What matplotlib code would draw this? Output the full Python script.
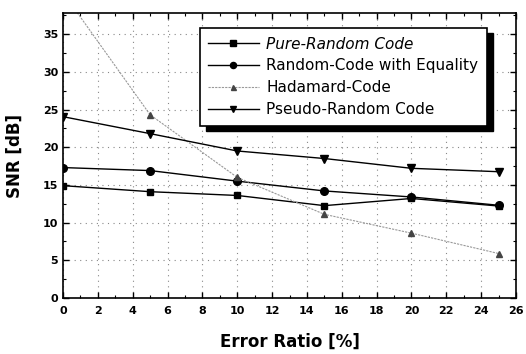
import numpy as np
import matplotlib
matplotlib.use("Agg")
import matplotlib.pyplot as plt
from matplotlib.patches import Rectangle
from matplotlib.ticker import MultipleLocator

# donnees
err = [0, 5, 10, 15, 20, 25]
pure_random = [14.9, 14.1, 13.6, 12.25, 13.2, 12.2]
random_eq = [17.3, 16.9, 15.5, 14.2, 13.4, 12.3]
hadamard = [40.5, 24.3, 16.0, 11.1, 8.6, 5.9]
pseudo_random = [24.05, 21.8, 19.5, 18.5, 17.2, 16.75]
labels = ["Pure-Random Code", "Random-Code with Equality",
          "Hadamard-Code", "Pseudo-Random Code"]

plt.rcParams['font.family'] = ['DejaVu Sans']
fig = plt.figure(figsize=(5.26, 3.54), dpi=100)
ax = fig.add_axes([63/526, 1-298/354, 453/526, 285/354])

ax.plot(err, pure_random, color='k', lw=1, marker='s', ms=5, label=labels[0])
ax.plot(err, random_eq, color='k', lw=1, marker='o', ms=5.5, label=labels[1])
ax.plot(err, hadamard, color='#999999', lw=0.8, ls=(0, (2, 1)), marker='^', ms=4.5,
        mfc='#444444', mec='#444444', label=labels[2])
ax.plot(err, pseudo_random, color='k', lw=1, marker='v', ms=6, label=labels[3])

ax.set_xlim(0, 26)
ax.set_ylim(0, 37.8)
ax.xaxis.set_major_locator(MultipleLocator(2))
ax.xaxis.set_minor_locator(MultipleLocator(1))
ax.yaxis.set_major_locator(MultipleLocator(5))
ax.yaxis.set_minor_locator(MultipleLocator(2.5))
ax.tick_params(which='both', direction='in', top=True, right=True, labelsize=8)
ax.tick_params(which='major', length=4, width=1)
ax.tick_params(which='minor', length=2.5, width=0.8)
for lab in ax.get_xticklabels() + ax.get_yticklabels():
    lab.set_fontweight('bold')
ax.tick_params(axis='x', pad=6)
ax.grid(True, which='major', color='#888888', ls=(0, (1, 4)), lw=0.8)
for s in ax.spines.values():
    s.set_linewidth(1.2)

ax.set_xlabel("Error Ratio [%]", fontsize=12, fontweight='heavy', labelpad=12)
ax.set_ylabel("SNR [dB]", fontsize=12, fontweight='heavy', labelpad=14)

leg = ax.legend(loc='upper left', bbox_to_anchor=(0.302, 0.947), fontsize=11,
                frameon=True, fancybox=False, edgecolor='k', framealpha=1,
                handlelength=3.3, handletextpad=0.5, borderpad=0.55,
                labelspacing=0.45, borderaxespad=0, markerscale=0.8)
leg.get_frame().set_linewidth(1.2)
leg.get_texts()[0].set_fontstyle('italic')

# ombre noire du cadre de legende
fig.canvas.draw()
bb = leg.get_window_extent().transformed(fig.transFigure.inverted())
sh = Rectangle((bb.x0 + 6/526, bb.y0 - 5/354), bb.width, bb.height,
               transform=fig.transFigure, color='k', clip_on=False,
               zorder=leg.get_zorder() - 0.5)
ax.add_artist(sh)

fig.savefig("out.png", dpi=100)
